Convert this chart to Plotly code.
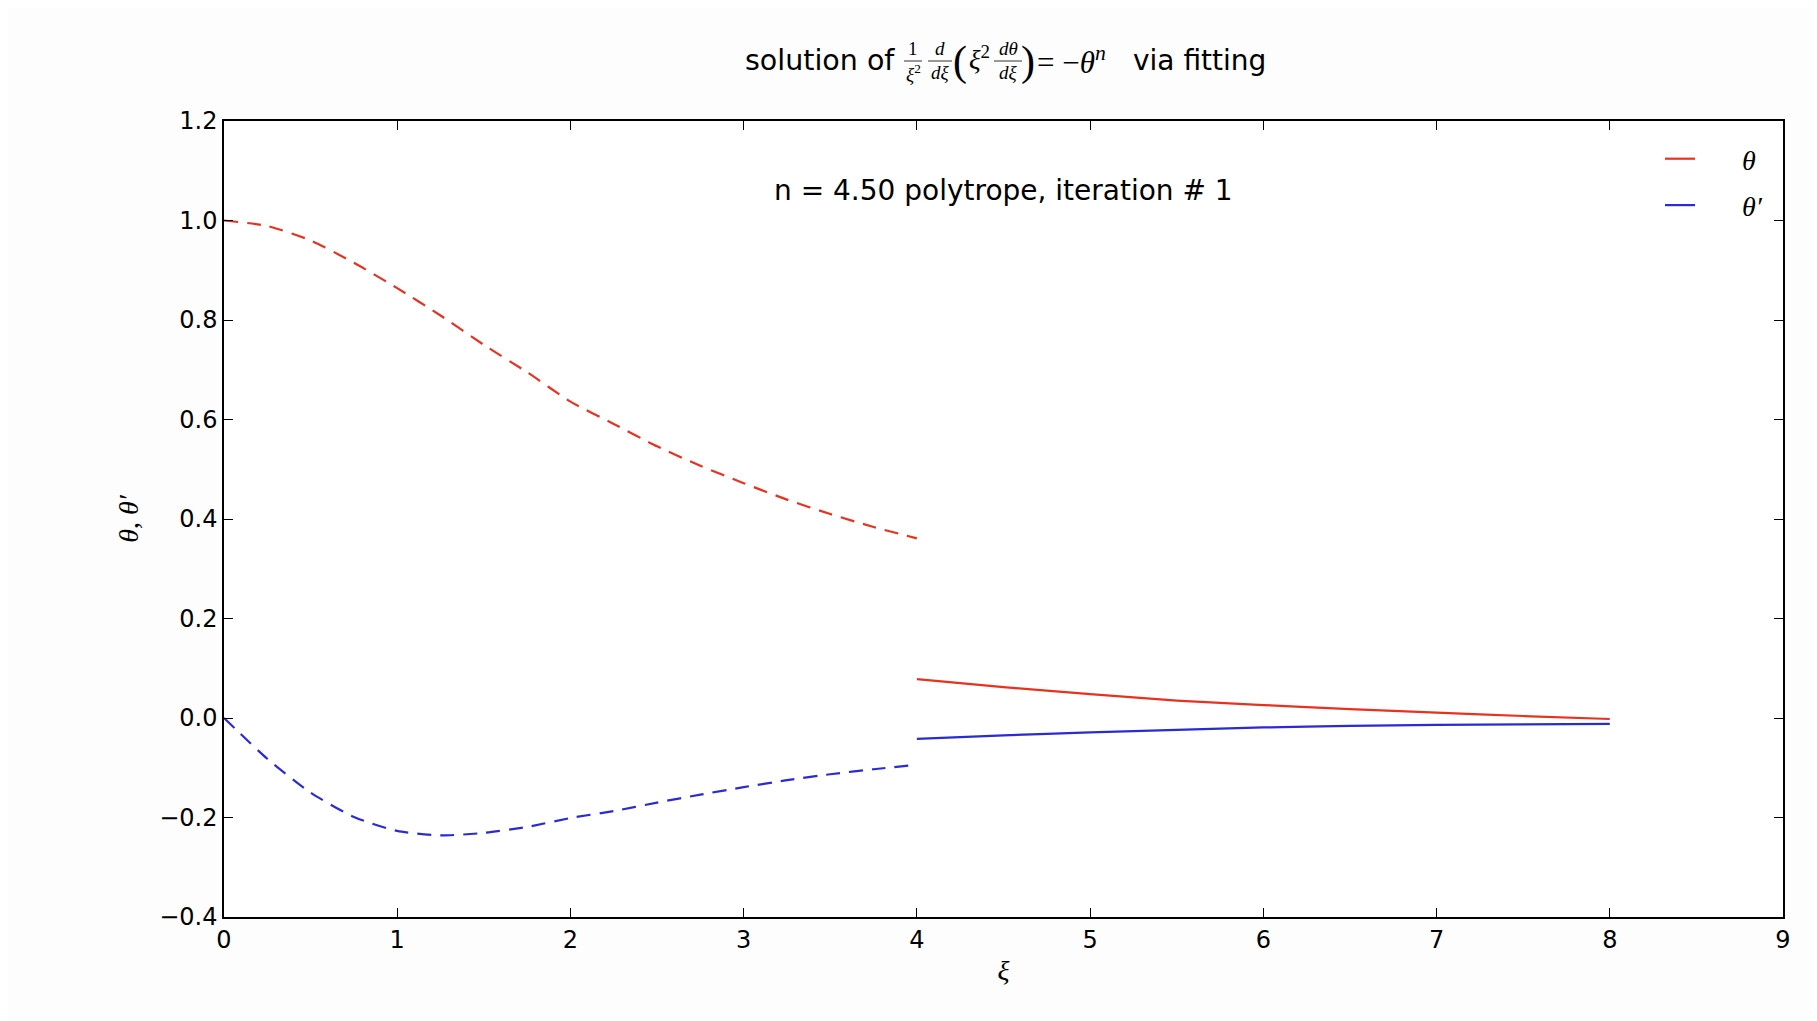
import plotly.graph_objects as go

# ---------------- data ----------------
xi_inner = [0.0, 0.25, 0.5, 0.75, 1.0, 1.25, 1.5, 1.75, 2.0, 2.25, 2.5, 2.75, 3.0, 3.25, 3.5, 3.75, 4.0]
theta_inner = [1.000, 0.989, 0.960, 0.915, 0.864, 0.809, 0.750, 0.695, 0.636, 0.591, 0.546, 0.507,
               0.472, 0.439, 0.410, 0.384, 0.361]
dtheta_inner = [0.000, -0.082, -0.150, -0.199, -0.227, -0.236, -0.231, -0.219, -0.201, -0.187, -0.170,
                -0.154, -0.139, -0.125, -0.113, -0.103, -0.094]

xi_outer = [4.0, 4.5, 5.0, 5.5, 6.0, 6.5, 7.0, 7.5, 8.0]
theta_outer = [0.078, 0.062, 0.048, 0.035, 0.026, 0.018, 0.011, 0.004, -0.002]
dtheta_outer = [-0.042, -0.035, -0.029, -0.024, -0.019, -0.016, -0.014, -0.013, -0.012]

x_ticks = [0, 1, 2, 3, 4, 5, 6, 7, 8, 9]
y_ticks = [-0.4, -0.2, 0.0, 0.2, 0.4, 0.6, 0.8, 1.0, 1.2]
legend_labels = ["\u2003\u2002<i>θ</i>", "\u2003\u2002<i>θ′</i>"]
info_text = "n = 4.50 polytrope, iteration # 1"

# ---------------- layout geometry ----------------
W, H = 1817, 1021
OFF = 8  # page offset of the figure inside the browser window
L, R, T, B = 224 - OFF, 34 + OFF, 121 - OFF, 104 + OFF
RED = "#e8321e"
BLUE = "#2a2ad6"
SANS = "DejaVu Sans"
SERIF = "Liberation Serif"


def px(x):
    return (x - OFF - L) / (W - L - R)


def py(y):
    return (H - B - (y - OFF)) / (H - T - B)


fig = go.Figure()

fig.add_trace(go.Scatter(x=xi_inner, y=theta_inner, mode="lines", showlegend=False,
                         line=dict(color=RED, width=2.2, dash="14px,9px", shape="spline", smoothing=0.6)))
fig.add_trace(go.Scatter(x=xi_inner, y=dtheta_inner, mode="lines", showlegend=False,
                         line=dict(color=BLUE, width=2.2, dash="14px,9px", shape="spline", smoothing=0.6)))
fig.add_trace(go.Scatter(x=xi_outer, y=theta_outer, mode="lines", name=legend_labels[0],
                         legendgroup="a", line=dict(color=RED, width=2.2, shape="spline", smoothing=0.6)))
fig.add_trace(go.Scatter(x=xi_outer, y=dtheta_outer, mode="lines", name=legend_labels[1],
                         legendgroup="b", line=dict(color=BLUE, width=2.2, shape="spline", smoothing=0.6)))

annotations = []
shapes = []

# info text inside the axes
annotations.append(dict(x=4.5, y=1.061, xref="x", yref="y", text=info_text, showarrow=False,
                        font=dict(family=SANS, size=28, color="black")))

# ----- title built from pieces -----
TY = 60


def txt(x, y, s, size, family=SANS, anchor="center"):
    annotations.append(dict(x=px(x), y=py(y), xref="paper", yref="paper", text=s, showarrow=False,
                            xanchor=anchor, yanchor="middle", font=dict(family=family, size=size, color="black")))


def frac(xc, x0, x1, num, den):
    txt(xc, TY - 12, num, 19, SERIF)
    txt(xc, TY + 13, den, 19, SERIF)
    shapes.append(dict(type="line", xref="paper", yref="paper", x0=px(x0), x1=px(x1),
                       y0=py(TY + 1), y1=py(TY + 1), line=dict(color="#333333", width=1)))


txt(743, TY, "solution of", 28.5, SANS, "left")
frac(913, 904, 922, "1", "<i>ξ</i><sup>2</sup>")
frac(940, 928, 952, "<i>d</i>", "<i>dξ</i>")
txt(960, TY + 1, "(", 42, SERIF)
txt(979, TY - 2, "<i>ξ</i><sup>2</sup>", 27, SERIF)
frac(1008, 994, 1022, "<i>dθ</i>", "<i>dξ</i>")
txt(1028, TY + 1, ")", 42, SERIF)
txt(1035, TY, "= −<i>θ</i><sup><i>n</i></sup>", 31, SERIF, "left")
txt(1131, TY, "via fitting", 28, SANS, "left")

axis_common = dict(
    showline=True, linecolor="black", linewidth=1.5, mirror="allticks",
    ticks="inside", ticklen=9, tickwidth=1.2, tickcolor="black",
    showgrid=False, zeroline=False,
    tickfont=dict(family=SANS, size=24, color="black"),
)

fig.update_layout(
    width=W, height=H,
    margin=dict(l=L, r=R, t=T, b=B),
    paper_bgcolor="#fdfdfd",
    plot_bgcolor="#ffffff",
    showlegend=True,
    legend=dict(x=px(1768), y=py(134), xanchor="right", yanchor="top", bgcolor="rgba(0,0,0,0)",
                font=dict(family=SERIF, size=28, color="black"), tracegroupgap=7,
                traceorder="grouped"),
    xaxis=dict(range=[0, 9], tickvals=x_ticks, ticktext=[str(v) for v in x_ticks],
               title=dict(text="<i>ξ</i>", font=dict(family=SERIF, size=28, color="black"), standoff=8),
               **axis_common),
    yaxis=dict(range=[-0.4, 1.2], tickvals=y_ticks, tickformat=".1f",
               title=dict(text="<i>θ</i>, <i>θ′</i>", font=dict(family=SERIF, size=28, color="black"),
                          standoff=12),
               **axis_common),
    annotations=annotations,
    shapes=shapes,
)

fig.write_html("out.html")
